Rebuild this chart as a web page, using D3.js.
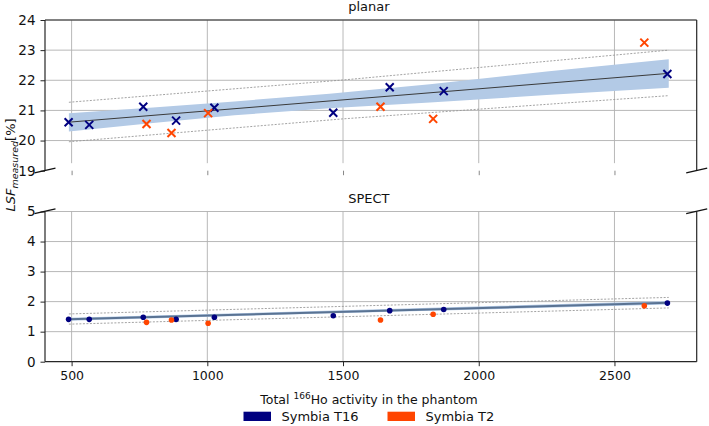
<!DOCTYPE html>
<html>
<head>
<meta charset="utf-8">
<script src="https://cdn.jsdelivr.net/npm/d3@7"></script>
<style>
  html, body { margin: 0; padding: 0; background: #fff; }
  svg { display: block; font-family: "DejaVu Sans", sans-serif; }
</style>
</head>
<body>
<svg id="chart" width="709" height="426"></svg>
<script>
// ---- data ----
const seriesNames = ["Symbia T16", "Symbia T2"];
const seriesColors = ["#000080", "#ff4500"];
const activityT16 = [489, 565, 764, 885, 1026, 1464, 1672, 1871, 2695];
const activityT2 = [776, 868, 1003, 1638, 1832, 2610];
const planarT16 = [20.61, 20.52, 21.12, 20.66, 21.09, 20.92, 21.77, 21.64, 22.21];
const planarT2 = [20.55, 20.25, 20.91, 21.12, 20.72, 23.25];
const spectT16 = [1.41, 1.41, 1.48, 1.41, 1.48, 1.53, 1.70, 1.74, 1.95];
const spectT2 = [1.31, 1.39, 1.28, 1.39, 1.58, 1.86];

// regression line, confidence band and prediction limits
const fitX = [490, 2700];
const planarFit = [20.61, 22.23];
const spectFit = [1.41, 1.96];
const planarBandX = [490, 800, 1100, 1450, 1820, 2250, 2700];
const planarCILo = [20.30, 20.58, 20.84, 21.07, 21.26, 21.51, 21.75];
const planarCIHi = [20.91, 21.10, 21.30, 21.55, 21.87, 22.29, 22.70];
const planarPIX = [490, 1500, 2700];
const planarPILo = [19.96, 20.72, 21.49];
const planarPIHi = [21.27, 22.01, 23.00];
const spectBandX = [490, 1500, 2700];
const spectCILo = [1.36, 1.62, 1.90];
const spectCIHi = [1.46, 1.71, 2.02];
const spectPIX = [490, 2700];
const spectPILo = [1.25, 1.79];
const spectPIHi = [1.59, 2.14];

const xTicks = [500, 1000, 1500, 2000, 2500];
const planarTicks = [19, 20, 21, 22, 23, 24];
const spectTicks = [0, 1, 2, 3, 4, 5];

// ---- layout ----
const svg = d3.select("#chart");
const L = 45, R = 696.7;
const x = d3.scaleLinear().domain([402, 2803]).range([L, R]);
const yTop = d3.scaleLinear().domain([19, 24]).range([170.7, 20]);
const yBot = d3.scaleLinear().domain([0, 5]).range([361.7, 211.5]);
const gridColor = "#b0b0b0";
const spineColor = "#262626";

function panel(y, opts) {
  const g = svg.append("g");
  const [y0, y1] = y.range();
  // grid
  g.append("g").selectAll("line").data(opts.hGrid).join("line")
    .attr("x1", L).attr("x2", R)
    .attr("y1", d => y(d)).attr("y2", d => y(d))
    .attr("stroke", gridColor).attr("stroke-width", 0.9);
  g.append("g").selectAll("line").data(xTicks).join("line")
    .attr("x1", d => x(d)).attr("x2", d => x(d))
    .attr("y1", opts.vGridTop).attr("y2", opts.vGridBottom)
    .attr("stroke", gridColor).attr("stroke-width", 0.9);

  // prediction band (dashed)
  const piLine = d3.line().x(d => x(d[0])).y(d => y(d[1]));
  [opts.piLo, opts.piHi].forEach(arr => {
    g.append("path")
      .attr("d", piLine(opts.piX.map((v, i) => [v, arr[i]])))
      .attr("fill", "none").attr("stroke", "#999").attr("stroke-width", 0.9)
      .attr("stroke-dasharray", "2,1.5");
  });
  // confidence band
  const area = d3.area().x(d => x(d.x)).y0(d => y(d.lo)).y1(d => y(d.hi));
  g.append("path")
    .attr("d", area(opts.bandX.map((v, i) => ({x: v, lo: opts.ciLo[i], hi: opts.ciHi[i]}))))
    .attr("fill", "#b3cae6");
  // fit line
  g.append("path")
    .attr("d", d3.line().x(d => x(d[0])).y(d => y(d[1]))(fitX.map((v, i) => [v, opts.fit[i]])))
    .attr("fill", "none").attr("stroke", opts.fitColor).attr("stroke-width", opts.fitWidth);

  // points
  const sets = [[activityT16, opts.t16, seriesColors[0]], [activityT2, opts.t2, seriesColors[1]]];
  sets.forEach(([xs, ys, col]) => {
    const pts = xs.map((v, i) => [v, ys[i]]);
    if (opts.marker === "x") {
      const s = 4;
      g.append("g").selectAll("path").data(pts).join("path")
        .attr("d", d => {
          const cx = x(d[0]), cy = y(d[1]);
          return `M${cx - s},${cy - s}L${cx + s},${cy + s}M${cx - s},${cy + s}L${cx + s},${cy - s}`;
        })
        .attr("stroke", col).attr("stroke-width", 2).attr("fill", "none");
    } else {
      g.append("g").selectAll("circle").data(pts).join("circle")
        .attr("cx", d => x(d[0])).attr("cy", d => y(d[1])).attr("r", 2.8)
        .attr("fill", col);
    }
  });

  // y axis
  const ya = g.append("g").attr("transform", `translate(${L},0)`)
    .call(d3.axisLeft(y).tickValues(opts.yTicks).tickSize(4.5).tickPadding(5).tickFormat(d3.format("d")));
  ya.select(".domain").remove();
  ya.selectAll(".tick line").attr("stroke", spineColor);
  ya.selectAll(".tick text").attr("font-size", 13.5).attr("font-family", "DejaVu Sans").attr("fill", "#111");

  // x axis
  const xa = g.append("g").attr("transform", `translate(0,${y0})`)
    .call(d3.axisBottom(x).tickValues(xTicks).tickSize(4.5).tickPadding(5)
      .tickFormat(opts.xLabels ? d3.format("d") : ""));
  xa.select(".domain").remove();
  xa.selectAll(".tick line").attr("stroke", opts.xLabels ? spineColor : "#888");
  xa.selectAll(".tick text").attr("font-size", 12.5).attr("font-family", "DejaVu Sans").attr("fill", "#111");

  // spines
  const sp = (x1, y1_, x2, y2) => g.append("line")
    .attr("x1", x1).attr("y1", y1_).attr("x2", x2).attr("y2", y2)
    .attr("stroke", spineColor).attr("stroke-width", 1.2);
  sp(L, y0, L, y1);
  sp(R, y0, R, y1);
  if (opts.topSpine) sp(L, y1, R, y1);
  if (opts.bottomSpine) sp(L, y0, R, y0);

  // title
  g.append("text").attr("x", (L + R) / 2 - 2).attr("y", opts.titleY)
    .attr("text-anchor", "middle").attr("font-size", 13).attr("fill", "#111")
    .text(opts.title);
}

panel(yTop, {
  hGrid: [20, 21, 22, 23, 24], vGridTop: 20, vGridBottom: yTop(19.25),
  piX: planarPIX, piLo: planarPILo, piHi: planarPIHi,
  bandX: planarBandX, ciLo: planarCILo, ciHi: planarCIHi,
  fit: planarFit, fitColor: "#3a3a3a", fitWidth: 1,
  t16: planarT16, t2: planarT2, marker: "x",
  yTicks: planarTicks, xLabels: false, topSpine: true, bottomSpine: false,
  title: "planar", titleY: 11
});
panel(yBot, {
  hGrid: [1, 2, 3, 4, 5], vGridTop: 211.5, vGridBottom: 361.7,
  piX: spectPIX, piLo: spectPILo, piHi: spectPIHi,
  bandX: spectBandX, ciLo: spectCILo, ciHi: spectCIHi,
  fit: spectFit, fitColor: "#5a7393", fitWidth: 2,
  t16: spectT16, t2: spectT2, marker: "o",
  yTicks: spectTicks, xLabels: true, topSpine: false, bottomSpine: true,
  title: "SPECT", titleY: 202.5
});

// axis break marks
[[L, 170.5], [R, 170.5], [L, 211.2], [R, 211.2]].forEach(([cx, cy]) => {
  svg.append("line")
    .attr("x1", cx - 10.5).attr("y1", cy + 2.4).attr("x2", cx + 10.5).attr("y2", cy - 2.4)
    .attr("stroke", "#111").attr("stroke-width", 1.3);
});

// y label
const yl = svg.append("text")
  .attr("transform", "translate(15,165) rotate(-90)")
  .attr("text-anchor", "middle").attr("font-size", 13).attr("fill", "#111");
yl.append("tspan").attr("font-style", "italic").text("LSF");
yl.append("tspan").attr("font-style", "italic").attr("font-size", 9.5).attr("dy", 3).text("measured");
yl.append("tspan").attr("dy", -3).text("[%]");

// x label
const xl = svg.append("text").attr("x", 369).attr("y", 403.5)
  .attr("text-anchor", "middle").attr("font-size", 12.5).attr("fill", "#111");
xl.append("tspan").text("Total ");
xl.append("tspan").attr("font-size", 9).attr("dy", -5).text("166");
xl.append("tspan").attr("dy", 5).text("Ho activity in the phantom");

// legend
const legX = [243.5, 387.5];
seriesNames.forEach((name, i) => {
  const lg = svg.append("g");
  lg.append("rect").attr("x", legX[i]).attr("y", 411.7).attr("width", 27.5).attr("height", 9.3)
    .attr("fill", seriesColors[i]);
  lg.append("text").attr("x", legX[i] + 38).attr("y", 421.3).attr("font-size", 13).attr("fill", "#111")
    .text(name);
});
</script>
</body>
</html>
